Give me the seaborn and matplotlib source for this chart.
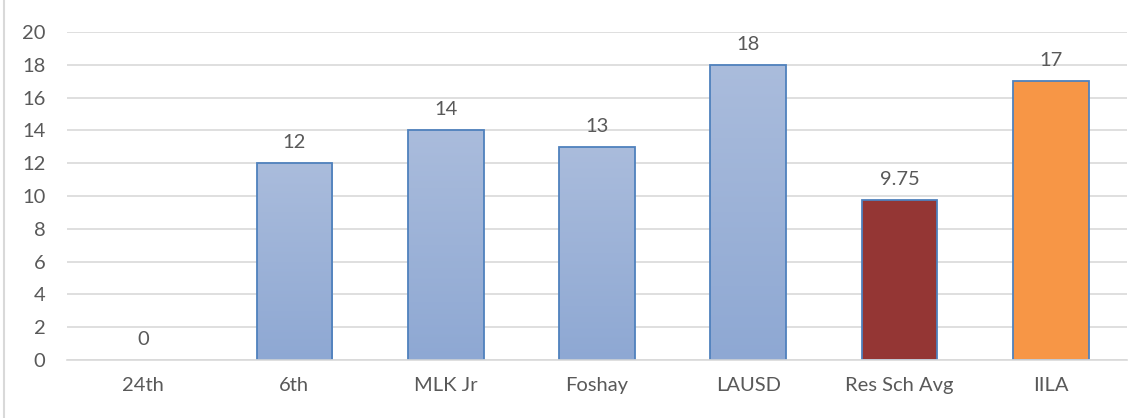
import matplotlib
matplotlib.use("Agg")
import matplotlib.pyplot as plt
import numpy as np
import pandas as pd
import seaborn as sns
from matplotlib.colors import LinearSegmentedColormap
from matplotlib.lines import Line2D

schools = ["24th", "6th", "MLK Jr", "Foshay", "LAUSD", "Res Sch Avg", "IILA"]
scores = [0, 12, 14, 13, 18, 9.75, 17]
labels = ["0", "12", "14", "13", "18", "9.75", "17"]
bar_colors = ["#9DB3D9", "#9DB3D9", "#9DB3D9", "#9DB3D9", "#9DB3D9", "#943634", "#F79646"]
gradient = [True, True, True, True, True, False, False]

df = pd.DataFrame({"school": schools, "score": scores})

sns.set_style("white")
plt.rcParams["font.family"] = ["Lato", "DejaVu Sans"]

fig = plt.figure(figsize=(11.46, 4.18), dpi=100)
ax = fig.add_axes([0.0589, 0.1388, 0.9241, 0.7846])

sns.barplot(x="school", y="score", data=df, hue="school", palette=bar_colors,
            saturation=1, legend=False, width=0.5, edgecolor="#4F81BD",
            linewidth=1.3, ax=ax)

# blue gradient like the office chart
cmap = LinearSegmentedColormap.from_list("blu", ["#8EA8D3", "#AABCDC"])
grad = np.linspace(0, 1, 256).reshape(-1, 1)
for patch, g in zip(ax.patches, gradient):
    if patch.get_height() == 0:
        patch.set_visible(False)
        continue
    if not g:
        continue
    x0, y0 = patch.get_x(), patch.get_y()
    w, h = patch.get_width(), patch.get_height()
    im = ax.imshow(grad, cmap=cmap, origin="lower", aspect="auto",
                   extent=[x0, x0 + w, y0, y0 + h], zorder=patch.get_zorder() - 0.1)
    im.set_clip_path(patch)
    patch.set_facecolor("none")

for i, (v, lab) in enumerate(zip(scores, labels)):
    ax.text(i, v + 0.75, lab, ha="center", va="bottom", fontsize=14.5, color="#595959")

ax.set_xlim(-0.5, len(schools) - 0.5)
ax.set_ylim(0, 20)
ax.set_yticks(range(0, 21, 2))
ax.yaxis.grid(True, color="#D9D9D9", linewidth=1.2)
ax.set_axisbelow(True)
for s in ["top", "right", "left"]:
    ax.spines[s].set_visible(False)
ax.spines["bottom"].set_color("#D9D9D9")
ax.spines["bottom"].set_linewidth(1.2)
ax.tick_params(axis="both", length=0, labelsize=14.5, colors="#595959")
ax.tick_params(axis="x", pad=12)
ax.tick_params(axis="y", pad=16)
ax.set_xlabel("")
ax.set_ylabel("")

fig.add_artist(Line2D([4 / 1146, 4 / 1146], [0, 1], color="#D9D9D9", linewidth=1.5))

plt.savefig("out.png", dpi=100)
